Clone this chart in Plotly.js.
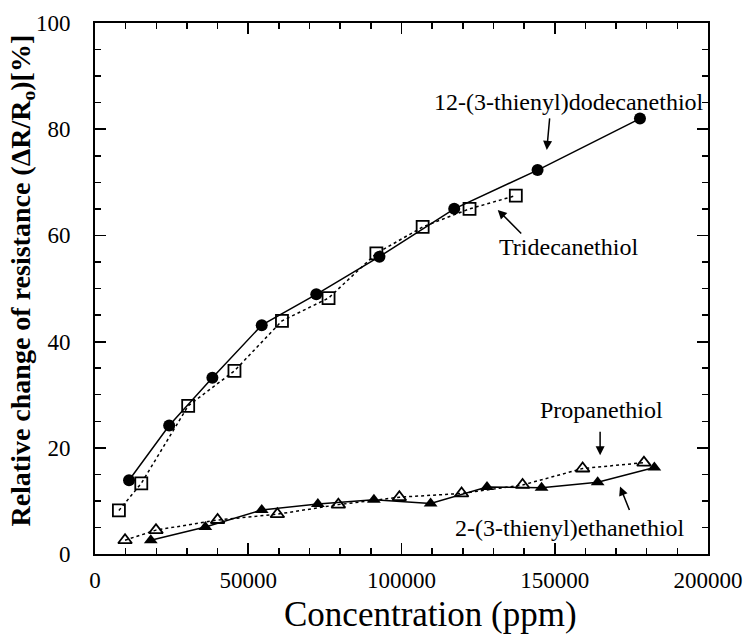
<!DOCTYPE html>
<html>
<head>
<meta charset="utf-8">
<script src="https://cdn.plot.ly/plotly-3.0.1.min.js"></script>
<style>html,body{margin:0;padding:0;background:#fff;}#chart{width:744px;height:635px;}</style>
</head>
<body>
<div id="chart"></div>
<script>
// 12-(3-thienyl)dodecanethiol (filled circles, solid)
const dodecX = [11100, 24200, 38300, 54400, 72200, 92800, 117200, 144400, 177800];
const dodecY = [13.9, 24.2, 33.2, 43.1, 48.9, 56.0, 65.0, 72.3, 82.0];
// Tridecanethiol (open squares, dotted)
const tridecX = [7800, 15100, 30400, 45500, 61000, 76200, 91800, 106900, 122200, 137300];
const tridecY = [8.2, 13.3, 27.9, 34.5, 43.9, 48.2, 56.6, 61.6, 65.0, 67.5];
// 2-(3-thienyl)ethanethiol (filled triangles, solid)
const ethX = [18200, 36000, 54400, 72700, 91000, 109500, 127900, 145700, 164000, 182500];
const ethY = [2.6, 5.1, 8.3, 9.4, 10.2, 9.5, 12.6, 12.5, 13.5, 16.3];
// Propanethiol (open triangles, dotted)
const propX = [9800, 19900, 40000, 59500, 79400, 99300, 119600, 139500, 159100, 179100];
const propY = [2.6, 4.5, 6.4, 7.5, 9.3, 10.7, 11.4, 13.0, 16.1, 17.2];

const xTickVals = [0, 50000, 100000, 150000, 200000];
const xTickText = ['0', '50000', '100000', '150000', '200000'];
const yTickVals = [0, 20, 40, 60, 80, 100];
const yTickText = ['0', '20', '40', '60', '80', '100'];

const serif = '"Liberation Serif", "Times New Roman", serif';

const traces = [
  {x: dodecX, y: dodecY, mode: 'lines+markers', name: '12-(3-thienyl)dodecanethiol',
   line: {color: '#000', width: 1.5, dash: 'solid'},
   marker: {symbol: 'circle', size: 12, color: '#000'}},
  {x: tridecX, y: tridecY, mode: 'lines+markers', name: 'Tridecanethiol',
   line: {color: '#000', width: 1.5, dash: 'dot'},
   marker: {symbol: 'square-open', size: 12, color: '#000', line: {width: 1.8, color: '#000'}}},
  {x: ethX, y: ethY, mode: 'lines+markers', name: '2-(3-thienyl)ethanethiol',
   line: {color: '#000', width: 1.5, dash: 'solid'},
   marker: {symbol: 'triangle-up', size: 12, color: '#000'}},
  {x: propX, y: propY, mode: 'lines+markers', name: 'Propanethiol',
   line: {color: '#000', width: 1.5, dash: 'dot'},
   marker: {symbol: 'triangle-up-open', size: 12, color: '#000', line: {width: 1.8, color: '#000'}}}
];

const arrowStyle = {showarrow: true, arrowhead: 2, arrowsize: 1.2, arrowwidth: 1.5, arrowcolor: '#000', text: '', axref: 'pixel', ayref: 'pixel'};

const layout = {
  width: 744, height: 635,
  margin: {l: 95, r: 36, t: 23, b: 81},
  paper_bgcolor: '#fff', plot_bgcolor: '#fff',
  showlegend: false,
  font: {family: serif, size: 23, color: '#000'},
  xaxis: {
    range: [0, 200000], tickvals: xTickVals, ticktext: xTickText,
    ticks: 'inside', ticklen: 11, tickwidth: 1.8, tickcolor: '#000',
    minor: {dtick: 10000, tick0: 0, ticks: 'inside', ticklen: 6, tickwidth: 1.5, tickcolor: '#000'},
    showline: true, linewidth: 2, linecolor: '#000', mirror: 'ticks',
    showgrid: false, zeroline: false, ticklabelstandoff: 4,
    tickfont: {family: serif, size: 23, color: '#000'}
  },
  yaxis: {
    range: [0, 100], tickvals: yTickVals, ticktext: yTickText,
    ticks: 'inside', ticklen: 11, tickwidth: 1.8, tickcolor: '#000',
    minor: {dtick: 5, tick0: 0, ticks: 'inside', ticklen: 6, tickwidth: 1.5, tickcolor: '#000'},
    showline: true, linewidth: 2, linecolor: '#000', mirror: 'ticks',
    showgrid: false, zeroline: false, ticklabelstandoff: 18,
    tickfont: {family: serif, size: 23, color: '#000'}
  },
  annotations: [
    {xref: 'paper', yref: 'paper', x: 0.5465, y: -0.113, xanchor: 'center', yanchor: 'middle', showarrow: false,
     text: 'Concentration (ppm)', font: {family: serif, size: 35, color: '#000'}},
    {xref: 'paper', yref: 'paper', x: -0.119, y: 0.515, xanchor: 'center', yanchor: 'middle', showarrow: false, textangle: -90,
     text: '<b>Relative change of resistance (ΔR/R<sub>o</sub>)[%]</b>', font: {family: serif, size: 28, color: '#000'}},
    {xref: 'x', yref: 'y', x: 154500, y: 85.1, showarrow: false, text: '12-(3-thienyl)dodecanethiol', font: {family: serif, size: 24, color: '#000'}},
    {xref: 'x', yref: 'y', x: 154500, y: 57.8, showarrow: false, text: 'Tridecanethiol', font: {family: serif, size: 24, color: '#000'}},
    {xref: 'x', yref: 'y', x: 165300, y: 27.1, showarrow: false, text: 'Propanethiol', font: {family: serif, size: 24, color: '#000'}},
    {xref: 'x', yref: 'y', x: 155000, y: 4.9, showarrow: false, text: '2-(3-thienyl)ethanethiol', font: {family: serif, size: 24, color: '#000'}},
    Object.assign({xref: 'x', yref: 'y', x: 147400, y: 76.1, ax: 3, ay: -33}, arrowStyle),
    Object.assign({xref: 'x', yref: 'y', x: 131400, y: 64.8, ax: 25, ay: 25}, arrowStyle),
    Object.assign({xref: 'x', yref: 'y', x: 164800, y: 18.6, ax: 0, ay: -25}, arrowStyle),
    Object.assign({xref: 'x', yref: 'y', x: 171300, y: 12.7, ax: 10, ay: 25}, arrowStyle)
  ]
};

Plotly.newPlot('chart', traces, layout, {displayModeBar: false, staticPlot: true});
</script>
</body>
</html>
